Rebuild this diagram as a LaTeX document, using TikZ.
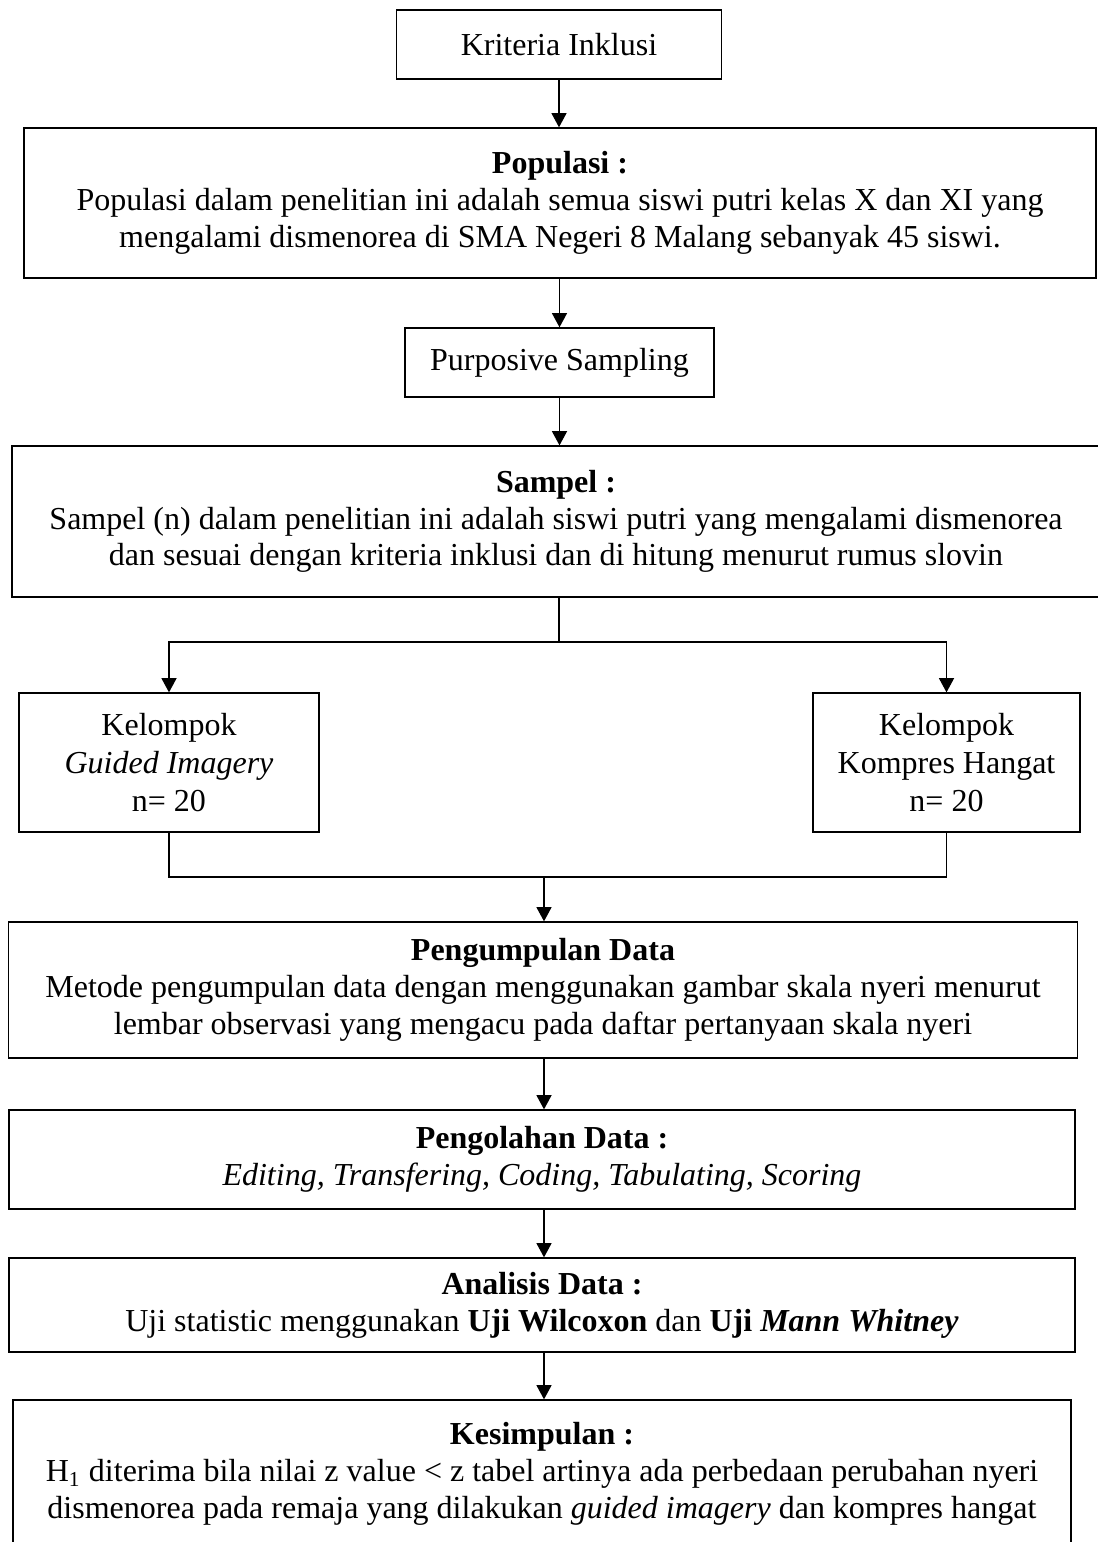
\documentclass[tikz,border=0pt]{standalone}
\usepackage{fontspec}
\setmainfont{Liberation Serif}
\usetikzlibrary{arrows.meta}

\tikzset{
  kotak/.style={draw, line width=0.5pt, inner sep=0pt, align=center, font=\fontsize{12}{13.8}\selectfont},
  kelompok/.style={kotak, minimum height=52.1pt, font=\fontsize{12}{14.4}\selectfont},
  panah/.style={-{Triangle[width=5.6pt,length=5.3pt]}, line width=0.5pt},
  garis/.style={line width=0.5pt}
}

\begin{document}
\begin{tikzpicture}[x=0.375pt, y=-0.375pt]
\useasboundingbox (0,0) rectangle (1098,1542);

\node[kotak, minimum width=121.9pt, minimum height=25.9pt] (kriteria) at (559,44.5) {Kriteria Inklusi};
\node[kotak, minimum width=402pt, minimum height=56.25pt] (populasi) at (560,203) {\textbf{Populasi :}\\Populasi dalam penelitian ini adalah semua siswi putri kelas X dan XI yang\\mengalami dismenorea di SMA Negeri 8 Malang sebanyak 45 siswi.};
\node[kotak, minimum width=115.9pt, minimum height=25.9pt] (purposive) at (559.5,362.5) {Purposive Sampling};
\node[kotak, minimum width=408pt, minimum height=56.6pt] (sampel) at (556,521.5) {\textbf{Sampel :}\\Sampel (n) dalam penelitian ini adalah siswi putri yang mengalami dismenorea\\dan sesuai dengan kriteria inklusi dan di hitung menurut rumus slovin};

\node[kelompok, minimum width=112.5pt] (guided) at (169,762.5) {Kelompok\\\textit{Guided Imagery}\\n= 20};
\node[kelompok, minimum width=100.1pt] (kompres) at (946.5,762.5) {Kelompok\\Kompres Hangat\\n= 20};

\node[kotak, minimum width=400.9pt, minimum height=51pt] (pengumpulan) at (543,990) {\textbf{Pengumpulan Data}\\Metode pengumpulan data dengan menggunakan gambar skala nyeri menurut\\lembar observasi yang mengacu pada daftar pertanyaan skala nyeri};
\node[kotak, minimum width=399.75pt, minimum height=37.1pt] (pengolahan) at (542,1159.5) {\textbf{Pengolahan Data :}\\\textit{Editing, Transfering, Coding, Tabulating, Scoring}};
\node[kotak, minimum width=399.75pt, minimum height=35.25pt] (analisis) at (542,1305) {\textbf{Analisis Data :}\\Uji statistic menggunakan \textbf{Uji Wilcoxon} dan \textbf{Uji \textit{Mann Whitney}}};
\node[kotak, minimum width=396.75pt, minimum height=55.5pt] (kesimpulan) at (542,1474) {\textbf{Kesimpulan :}\\H\textsubscript{1} diterima bila nilai z value < z tabel artinya ada perbedaan perubahan nyeri\\dismenorea pada remaja yang dilakukan \textit{guided imagery} dan kompres hangat};

\coordinate (cabang) at (559,642);
\coordinate (gabung) at (544,877);

\draw[panah] (kriteria.south) -- (kriteria.south |- populasi.north);
\draw[panah] (populasi.south -| purposive) -- (purposive.north);
\draw[panah] (purposive.south) -- (purposive.south |- sampel.north);
\draw[garis] (sampel.south -| cabang) -- (cabang);
\draw[panah] (cabang) -| (guided.north);
\draw[panah] (cabang) -| (kompres.north);
\draw[garis] (guided.south) |- (gabung) -| (kompres.south);
\draw[panah] (gabung) -- (gabung |- pengumpulan.north);
\draw[panah] (pengumpulan.south -| gabung) -- (gabung |- pengolahan.north);
\draw[panah] (pengolahan.south -| gabung) -- (gabung |- analisis.north);
\draw[panah] (analisis.south -| gabung) -- (gabung |- kesimpulan.north);

\end{tikzpicture}
\end{document}
